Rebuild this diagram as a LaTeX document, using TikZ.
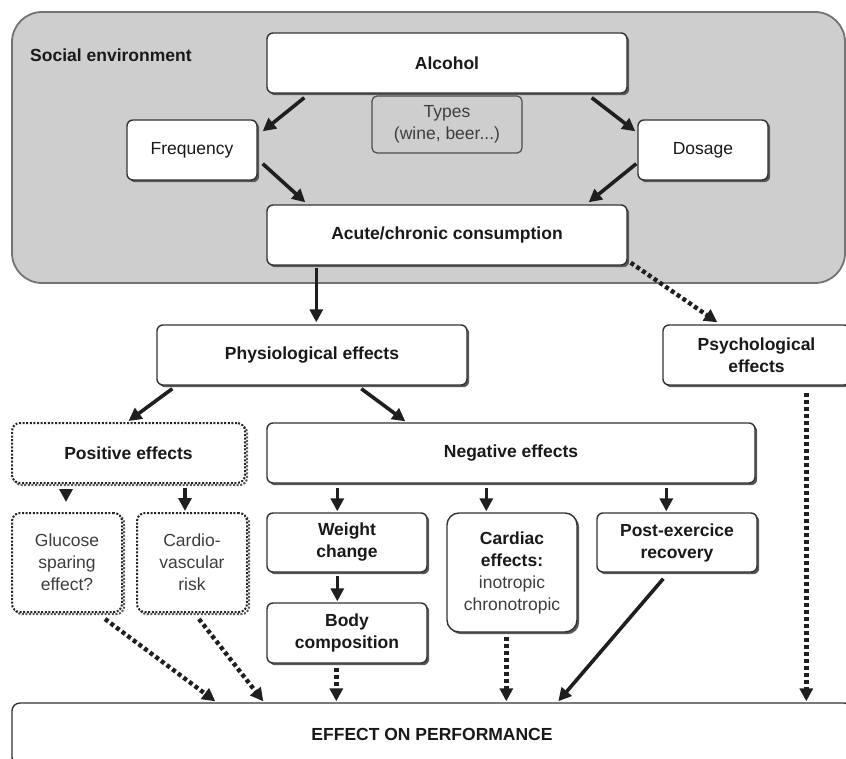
\documentclass[tikz,border=0pt]{standalone}
\usepackage{fontspec}
\setmainfont{Liberation Sans}
\usetikzlibrary{arrows.meta,shadows,calc}
\newcommand\dfont{\fontsize{17.5}{22}\selectfont}
\definecolor{envgray}{RGB}{206,206,206}
\definecolor{txtgray}{RGB}{62,62,62}
\begin{document}
\begin{tikzpicture}[x=1pt,y=-1pt,
  envbox/.style={draw=black!55, line width=1.8pt, fill=envgray, rounded corners=30pt, inner sep=0pt},
  box/.style={draw=black!80, line width=1.4pt, fill=white, rounded corners=6pt, align=center, inner sep=0pt,
    font=\dfont\bfseries, text=black!90,
    drop shadow={shadow xshift=2.2pt, shadow yshift=-2.2pt, fill=black!65, opacity=1}},
  plainbox/.style={box, font=\dfont},
  dotbox/.style={draw=black!85, line width=2pt, dash pattern=on 2pt off 1.6pt, fill=white, rounded corners=8pt,
    align=center, inner sep=0pt,
    drop shadow={shadow xshift=2.2pt, shadow yshift=-2.2pt, fill=none, draw=black!65, line width=2pt,
      dash pattern=on 2pt off 1.6pt, opacity=1}},
  typebox/.style={draw=black!70, line width=1.2pt, fill=envgray, rounded corners=5pt, align=center, inner sep=0pt,
    font=\dfont, text=txtgray},
  arr/.style={draw=black!88, line width=3.6pt, -{Triangle[length=13pt,width=13pt]}},
  dotarr/.style={arr, line width=4.4pt, dash pattern=on 4pt off 3pt},
]
\useasboundingbox (0,0) rectangle (846,759);
\clip (0,0) rectangle (846,759);
\fill[white] (0,0) rectangle (846,759);

% social environment
\node[envbox, minimum width=833pt, minimum height=271pt] (env) at (428.5,147.5) {};
\node[anchor=west, font=\dfont\bfseries, text=black!90, inner sep=0pt] (envlabel) at (30,55) {Social environment};

\node[typebox, minimum width=150pt, minimum height=57pt] (types) at (447,124.5) {Types\\(wine, beer...)};
\node[box, minimum width=360pt, minimum height=60pt] (alc) at (447,63) {Alcohol};
\node[plainbox, minimum width=130pt, minimum height=60pt] (freq) at (192,150) {Frequency};
\node[plainbox, minimum width=130pt, minimum height=60pt] (dose) at (703,150) {Dosage};
\node[box, minimum width=360pt, minimum height=60pt] (acute) at (447,235) {Acute/chronic consumption};

\node[box, minimum width=310pt, minimum height=60pt] (phys) at (312,355) {Physiological effects};
\node[box, minimum width=187pt, minimum height=60pt] (psych) at (756.5,355) {Psychological\\effects};

\node[dotbox, font=\dfont\bfseries, text=black!90, minimum width=233pt, minimum height=60pt] (pos) at (128.5,453) {Positive effects};
\node[box, minimum width=488pt, minimum height=60pt] (neg) at (511,453) {Negative effects};

\node[dotbox, font=\dfont, text=txtgray, minimum width=110pt, minimum height=99pt] (gluc) at (67,562.5) {Glucose\\sparing\\effect?};
\node[dotbox, font=\dfont, text=txtgray, minimum width=110pt, minimum height=99pt] (cardio) at (192,562.5) {Cardio-\\vascular\\risk};
\node[box, minimum width=160pt, minimum height=59pt] (weight) at (347,542.5) {Weight\\change};
\node[box, minimum width=160pt, minimum height=60pt] (body) at (347,633) {Body\\composition};
\node[box, rounded corners=12pt, minimum width=130pt, minimum height=119pt] (cardiac) at (512,572.5)
  {Cardiac\\effects:\\\mdseries\textcolor{txtgray}{inotropic}\\\mdseries\textcolor{txtgray}{chronotropic}};
\node[box, minimum width=160pt, minimum height=59pt] (post) at (677,542.5) {Post-exercice\\recovery};

\node[box, rounded corners=8pt, font=\dfont\bfseries, minimum width=840pt, minimum height=62pt] (perf) at (432,734) {EFFECT ON PERFORMANCE};

% connectors
\draw[arr] ($(alc.south west)+(38,4)$) -- ($(freq.north east)+(5,12)$);
\draw[arr] ($(alc.south east)+(-36,4)$) -- ($(dose.north west)+(-2,12)$);
\draw[arr] ($(freq.south east)+(5,-17)$) -- ($(acute.north west)+(39,-2)$);
\draw[arr] ($(dose.south west)+(-1,-17)$) -- ($(acute.north east)+(-39,-2)$);
\draw[arr] ($(acute.south west)+(50,2)$) -- ($(phys.north west)+(160,-2)$);
\draw[dotarr] ($(acute.south east)+(3,-3)$) -- ($(psych.north west)+(55,-2)$);
\draw[arr] ($(phys.south west)+(16,3)$) -- ($(pos.north)+(0,-1)$);
\draw[arr] ($(phys.south west)+(205,3)$) -- ($(neg.north west)+(139,-1)$);
\draw[arr] ($(pos.south west)+(55,5)$) -- ($(gluc.north west)+(55,-10)$);
\draw[arr] ($(pos.south west)+(174,4)$) -- ($(cardio.north west)+(49,-1)$);
\draw[arr] ($(neg.south west)+(71,4)$) -- ($(weight.north west)+(71,-1)$);
\draw[arr] ($(neg.south west)+(220,4)$) -- ($(cardiac.north west)+(40,-1)$);
\draw[arr] ($(neg.south west)+(400,4)$) -- ($(post.north west)+(70,-1)$);
\draw[arr] ($(weight.south west)+(71,3)$) -- ($(body.north west)+(71,-1)$);
\draw[dotarr] ($(gluc.south west)+(94,6)$) -- ($(perf.north west)+(204,-1)$);
\draw[dotarr] ($(cardio.south west)+(63,6)$) -- ($(perf.north west)+(252,-1)$);
\draw[dotarr] ($(body.south west)+(70,4)$) -- ($(perf.north west)+(325,-1)$);
\draw[dotarr] ($(cardiac.south west)+(60,4)$) -- ($(perf.north west)+(495,-1)$);
\draw[arr] ($(post.south west)+(67,6)$) -- ($(perf.north west)+(547,-1)$);
\draw[dotarr] ($(psych.south west)+(144,7)$) -- ($(perf.north west)+(795,-1)$);
\end{tikzpicture}
\end{document}
